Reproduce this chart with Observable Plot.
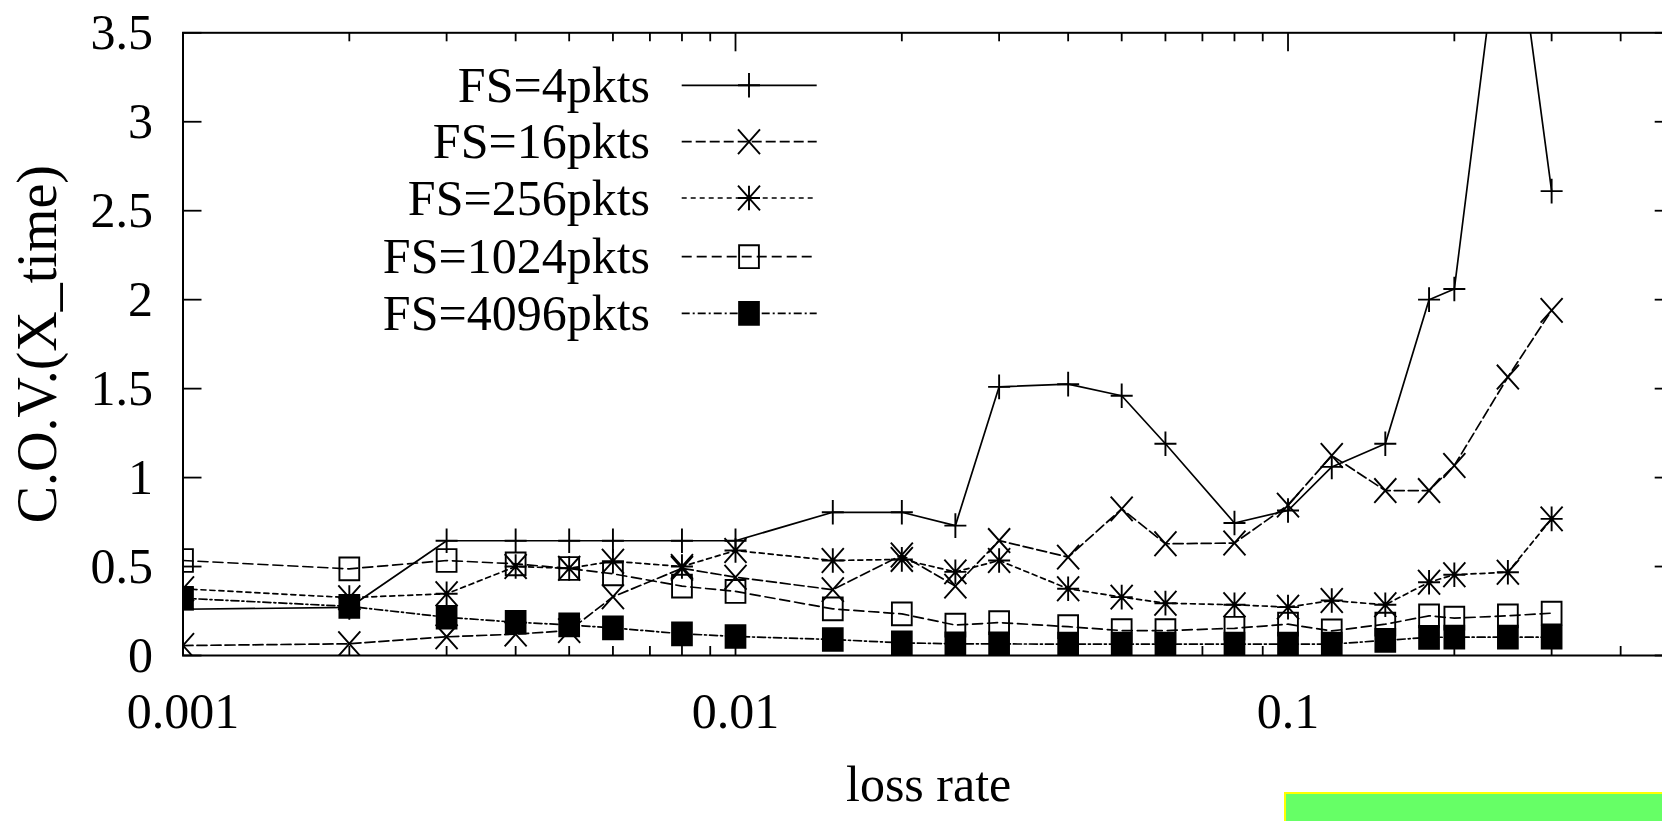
<!DOCTYPE html>
<html>
<head>
<meta charset="utf-8">
<script src="https://cdn.jsdelivr.net/npm/d3@7"></script>
<script src="https://cdn.jsdelivr.net/npm/@observablehq/plot@0.6"></script>
<style>
  html, body { margin: 0; padding: 0; background: #fff; overflow: hidden; }
  #wrap { position: relative; width: 1690px; height: 821px; }
  #legend { position: absolute; left: 0; top: 0; }
  #mark { position: absolute; left: 1284px; top: 792px; width: 420px; height: 40px;
          background: #66ff66; border-top: 2px solid #ffff00; border-left: 2px solid #ffff00; }
</style>
</head>
<body>
<div id="wrap"><div id="chart"></div><svg id="legend" width="840" height="360"></svg><div id="mark"></div></div>
<script>
// ---- data ----
const lossRates = [0.001, 0.002, 0.003, 0.004, 0.005, 0.006, 0.008, 0.01, 0.015, 0.02, 0.025, 0.03,
                   0.04, 0.05, 0.06, 0.08, 0.1, 0.12, 0.15, 0.18, 0.2, 0.25, 0.3];
const fs4    = [0.26, 0.27, 0.645, 0.645, 0.645, 0.645, 0.645, 0.645, 0.805, 0.805, 0.73, 1.51,
                1.525, 1.46, 1.19, 0.745, 0.815, 1.06, 1.19, 2.0, 2.06, 4.45, 2.61];
const fs16   = [0.056, 0.066, 0.105, 0.12, 0.14, 0.33, 0.49, 0.44, 0.37, 0.565, 0.39, 0.646,
                0.553, 0.824, 0.628, 0.632, 0.845, 1.124, 0.927, 0.927, 1.068, 1.565, 1.94];
const fs256  = [0.375, 0.325, 0.347, 0.5, 0.49, 0.53, 0.5, 0.59, 0.534, 0.54, 0.47, 0.534,
                0.375, 0.328, 0.294, 0.285, 0.272, 0.309, 0.285, 0.412, 0.454, 0.468, 0.768];
const fs1024 = [0.534, 0.487, 0.534, 0.515, 0.489, 0.459, 0.39, 0.36, 0.262, 0.234, 0.171, 0.185,
                0.162, 0.14, 0.14, 0.153, 0.176, 0.138, 0.176, 0.223, 0.21, 0.223, 0.238];
const fs4096 = [0.322, 0.276, 0.215, 0.187, 0.172, 0.155, 0.122, 0.107, 0.09, 0.071, 0.066, 0.065,
                0.064, 0.064, 0.064, 0.064, 0.064, 0.064, 0.085, 0.102, 0.103, 0.103, 0.103];
const seriesNames = ["FS=4pkts", "FS=16pkts", "FS=256pkts", "FS=1024pkts", "FS=4096pkts"];
const xMajorTicks = [0.001, 0.01, 0.1];
const xMinorTicks = [0.002, 0.003, 0.004, 0.005, 0.006, 0.007, 0.008, 0.009,
                     0.02, 0.03, 0.04, 0.05, 0.06, 0.07, 0.08, 0.09, 0.2, 0.3, 0.4];
const yTicks = [0, 0.5, 1, 1.5, 2, 2.5, 3, 3.5];
const xDomain = [0.001, 0.5];
const yDomain = [0, 3.5];
const xLabel = "loss rate";
const yLabel = "C.O.V.(X_time)";

// ---- symbols (gnuplot-like) ----
const hs = s => Math.sqrt(s / Math.PI);
const symPlus = {draw(c, s) { const h = hs(s); c.moveTo(-h, 0); c.lineTo(h, 0); c.moveTo(0, -h * 1.12); c.lineTo(0, h * 1.12); }};
const symTimes = {draw(c, s) { const h = hs(s); const v = h * 1.12; c.moveTo(-h, -v); c.lineTo(h, v); c.moveTo(-h, v); c.lineTo(h, -v); }};
const symStar = {draw(c, s) { const h = hs(s); const v = h * 1.12; c.moveTo(-h, -v); c.lineTo(h, v); c.moveTo(-h, v); c.lineTo(h, -v); c.moveTo(0, -v); c.lineTo(0, v); c.moveTo(-h, 0); c.lineTo(h, 0); }};
const symSquare = {draw(c, s) { const h = hs(s) * 0.9; const v = h * 1.15; c.moveTo(-h, -v); c.lineTo(h, -v); c.lineTo(h, v); c.lineTo(-h, v); c.closePath(); }};

const styles = [
  {values: fs4,    dash: null,        sym: symPlus,   fill: "none"},
  {values: fs16,   dash: "10,4",      sym: symTimes,  fill: "none"},
  {values: fs256,  dash: "5,4",       sym: symStar,   fill: "none"},
  {values: fs1024, dash: "10,5",      sym: symSquare, fill: "none"},
  {values: fs4096, dash: "8,3,2,3",   sym: symSquare, fill: "black"}
];

const rows = [];
styles.forEach((st, k) => st.values.forEach((v, i) => rows.push({x: lossRates[i], y: v, s: seriesNames[k]})));

// ---- layout ----
const W = 1690, H = 821, mL = 182.5, mR = 16.3, mT = 32.3, mB = 166;
const frameH = H - mT - mB, frameW = W - mL - mR;
const majorLen = 19, minorLen = 9;
const FONT = "Liberation Serif";

const marks = [];
styles.forEach((st, k) => {
  const data = rows.filter(r => r.s === seriesNames[k]);
  marks.push(Plot.line(data, {x: "x", y: "y", stroke: "black", strokeWidth: 1.7,
    strokeDasharray: st.dash || undefined, clip: true}));
});
styles.forEach((st, k) => {
  const data = rows.filter(r => r.s === seriesNames[k]);
  marks.push(Plot.dot(data, {x: "x", y: "y", symbol: st.sym, r: 11, stroke: "black",
    strokeWidth: 1.9, fill: st.fill, clip: true}));
});
// inward ticks on all four sides
marks.push(
  Plot.tickX(xMajorTicks, {x: d => d, stroke: "black", strokeWidth: 1.8, insetTop: frameH - majorLen}),
  Plot.tickX(xMajorTicks, {x: d => d, stroke: "black", strokeWidth: 1.8, insetBottom: frameH - majorLen}),
  Plot.tickX(xMinorTicks, {x: d => d, stroke: "black", strokeWidth: 1.8, insetTop: frameH - minorLen}),
  Plot.tickX(xMinorTicks, {x: d => d, stroke: "black", strokeWidth: 1.8, insetBottom: frameH - minorLen}),
  Plot.tickY(yTicks, {y: d => d, stroke: "black", strokeWidth: 1.8, insetRight: frameW - majorLen}),
  Plot.tickY(yTicks, {y: d => d, stroke: "black", strokeWidth: 1.8, insetLeft: frameW - majorLen}),
  Plot.frame({stroke: "black", strokeWidth: 2}),
  Plot.text([xLabel], {text: d => d, frameAnchor: "bottom", textAnchor: "middle", dy: 145, fontSize: 50, fill: "black"}),
  Plot.text([yLabel], {text: d => d, frameAnchor: "left", textAnchor: "middle", rotate: -90, dx: -145, fontSize: 56, fill: "black"})
);

const chart = Plot.plot({
  width: W, height: H,
  marginLeft: mL, marginRight: mR, marginTop: mT, marginBottom: mB,
  style: {fontFamily: FONT, fontSize: "50px", background: "white", color: "black", maxWidth: "none", overflow: "visible"},
  x: {type: "log", domain: xDomain, ticks: xMajorTicks, tickFormat: d => String(d), tickSize: 0, tickPadding: 37, label: null},
  y: {domain: yDomain, ticks: yTicks, tickFormat: d => String(d), tickSize: 0, tickPadding: 30, label: null},
  marks
});
chart.style.maxWidth = "none";
document.getElementById("chart").appendChild(chart);

// ---- legend (inside the plot, top-left, as in the reference) ----
const leg = d3.select("#legend");
const rowY = [85.3, 141.7, 198, 256.7, 313.3];
const textRight = 650, lineX1 = 681.7, lineX2 = 816.7, symX = 749;
styles.forEach((st, k) => {
  const y = rowY[k];
  leg.append("text").attr("x", textRight).attr("y", y + 16.5).attr("text-anchor", "end")
    .attr("font-family", FONT).attr("font-size", 50).attr("fill", "black").text(seriesNames[k]);
  leg.append("line").attr("x1", lineX1).attr("x2", lineX2).attr("y1", y).attr("y2", y)
    .attr("stroke", "black").attr("stroke-width", 1.7).attr("stroke-dasharray", st.dash);
  leg.append("path").attr("transform", `translate(${symX},${y})`)
    .attr("d", d3.symbol(st.sym, Math.PI * 11 * 11)())
    .attr("stroke", "black").attr("stroke-width", 1.9).attr("fill", st.fill);
});
</script>
</body>
</html>
